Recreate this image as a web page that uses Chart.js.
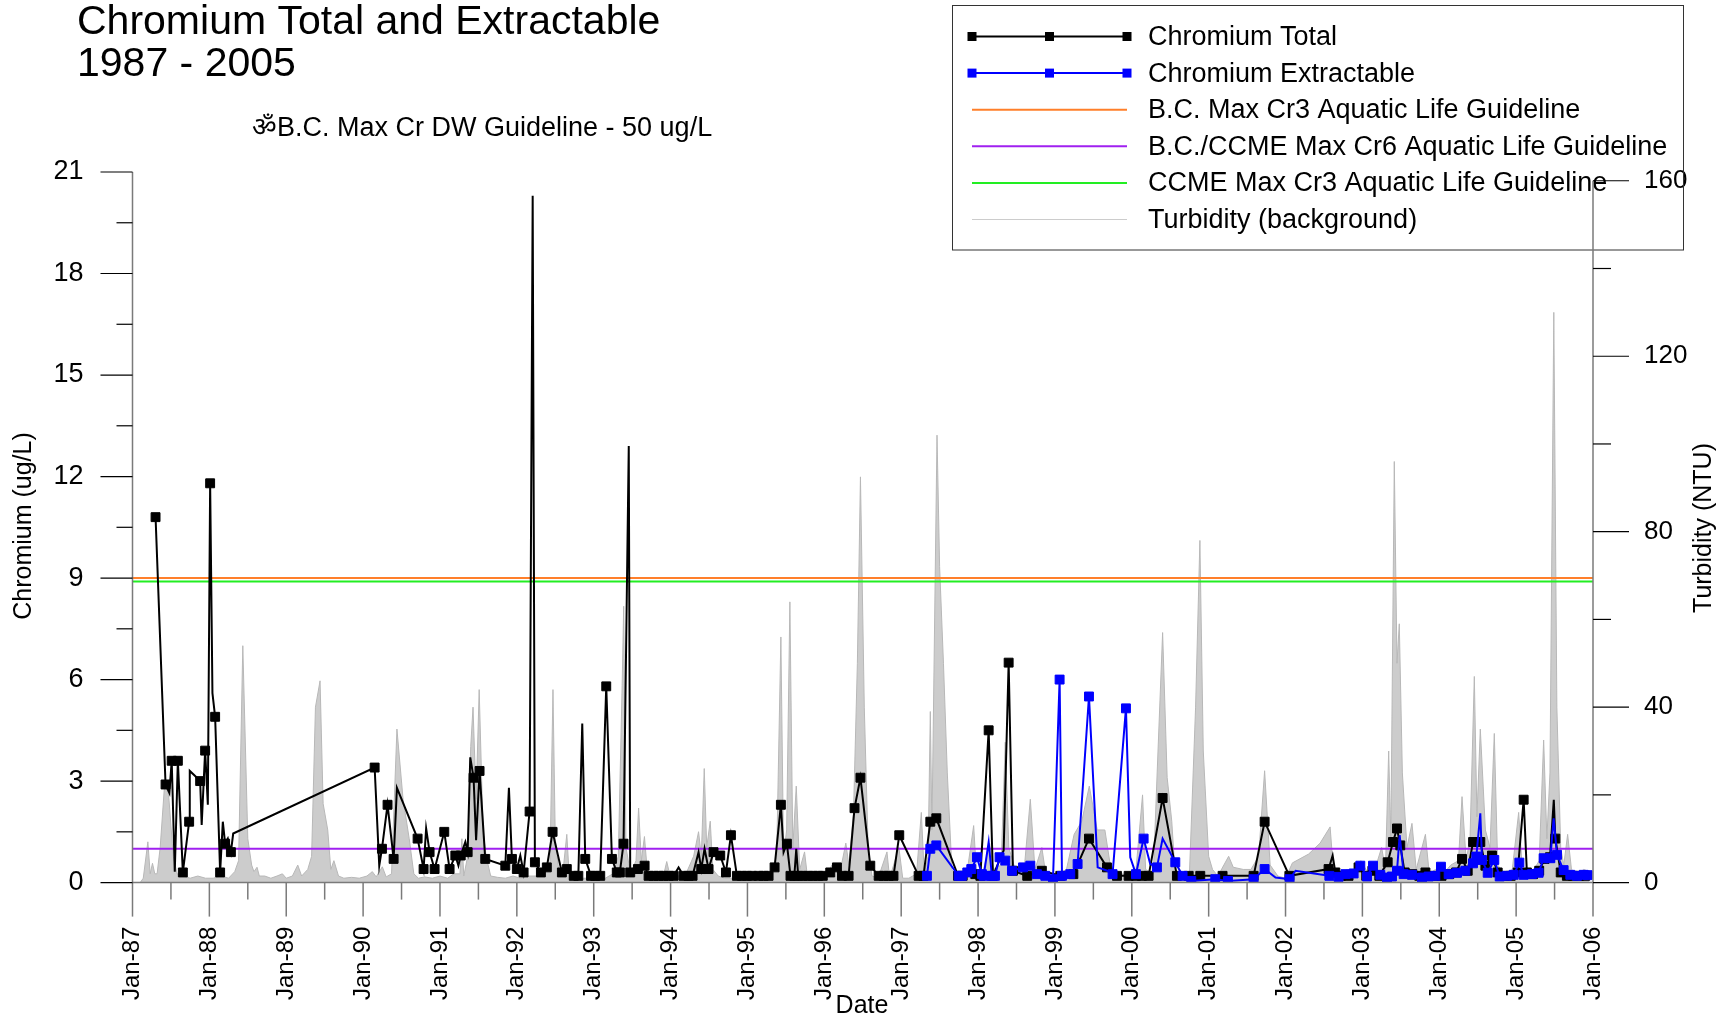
<!DOCTYPE html>
<html>
<head>
<meta charset="utf-8">
<script src="https://cdn.jsdelivr.net/npm/chart.js@4.4.1/dist/chart.umd.min.js"></script>
<style>
  html, body { margin: 0; padding: 0; background: #fff; }
</style>
</head>
<body>
<canvas id="chromium-chart" width="1732" height="1017"></canvas>
<script>
// ---- data (decimal year, value) ----
const titleLines = ['Chromium Total and Extractable', '1987 - 2005'];
const subtitle = '\u0950B.C. Max Cr DW Guideline - 50 ug/L';

const seriesLabels = [
    'Chromium Total',
    'Chromium Extractable',
    'B.C. Max Cr3 Aquatic Life Guideline',
    'B.C./CCME Max Cr6 Aquatic Life Guideline',
    'CCME Max Cr3 Aquatic Life Guideline',
    'Turbidity (background)',
];

// guideline levels (ug/L): BC Cr3, BC/CCME Cr6, CCME Cr3
const guidelineLevels = [9.0, 1.0, 8.9];

const chromiumTotal = [
    [1987.30,10.8],[1987.43,2.9],[1987.48,2.65],[1987.51,3.6],[1987.55,0.32],[1987.59,3.6],[1987.655,0.3],
    [1987.737,1.8],[1987.745,3.3],[1987.815,3.15],[1987.88,3.0],[1987.90,1.7],[1987.945,3.9],[1987.98,2.3],
    [1988.01,11.8],[1988.04,5.6],[1988.075,4.9],[1988.14,0.3],[1988.175,1.8],[1988.205,1.15],[1988.24,1.3],
    [1988.28,0.9],[1988.31,1.45],
    [1990.15,3.4],[1990.21,0.5],[1990.245,1.0],[1990.318,2.3],[1990.397,0.7],[1990.44,2.8],[1990.709,1.3],
    [1990.787,0.4],[1990.82,1.6],[1990.865,0.9],[1990.93,0.4],[1991.056,1.5],[1991.125,0.4],[1991.20,0.8],
    [1991.24,0.5],[1991.27,0.8],[1991.33,1.2],[1991.36,0.9],[1991.394,3.7],[1991.437,3.1],[1991.47,1.25],
    [1991.515,3.3],[1991.589,0.7],[1991.85,0.5],[1991.897,2.8],[1991.936,0.7],[1992.0,0.4],[1992.045,0.8],
    [1992.088,0.3],[1992.166,2.1],[1992.206,20.3],[1992.235,0.6],[1992.313,0.3],[1992.39,0.45],[1992.465,1.5],
    [1992.586,0.3],[1992.65,0.4],[1992.74,0.2],[1992.80,0.2],[1992.851,4.7],[1992.89,0.7],[1992.965,0.2],
    [1993.02,0.2],[1993.085,0.2],[1993.163,5.8],[1993.237,0.7],[1993.30,0.3],[1993.34,0.3],[1993.388,1.15],
    [1993.456,12.9],[1993.475,0.3],[1993.575,0.4],[1993.662,0.5],[1993.714,0.2],[1993.779,0.2],[1993.844,0.2],
    [1993.909,0.2],[1993.974,0.2],[1994.04,0.2],[1994.104,0.45],[1994.169,0.2],[1994.234,0.2],[1994.286,0.2],
    [1994.364,0.9],[1994.399,0.4],[1994.442,1.0],[1994.494,0.4],[1994.559,0.9],[1994.646,0.8],[1994.72,0.3],
    [1994.785,1.4],[1994.863,0.2],[1994.928,0.2],[1994.993,0.2],[1995.058,0.2],[1995.145,0.2],[1995.21,0.2],
    [1995.275,0.2],[1995.353,0.45],[1995.435,2.3],[1995.47,0.9],[1995.513,1.15],[1995.56,0.2],[1995.61,0.2],
    [1995.635,1.0],[1995.66,0.2],[1995.72,0.2],[1995.79,0.2],[1995.85,0.2],[1995.92,0.2],[1995.98,0.2],
    [1996.077,0.3],[1996.164,0.45],[1996.23,0.2],[1996.316,0.2],[1996.393,2.2],[1996.47,3.1],[1996.598,0.5],
    [1996.707,0.2],[1996.772,0.2],[1996.837,0.2],[1996.90,0.2],[1996.975,1.4],[1997.227,0.2],[1997.29,0.2],
    [1997.379,1.8],[1997.457,1.9],[1997.74,0.2],[1997.80,0.2],[1997.964,0.25],[1998.03,0.2],[1998.138,4.5],
    [1998.194,0.2],[1998.333,0.95],[1998.398,6.5],[1998.454,0.35],[1998.64,0.2],[1998.83,0.35],[1999.07,0.2],
    [1999.24,0.25],[1999.443,1.3],[1999.677,0.45],[1999.807,0.2],[1999.959,0.2],[2000.054,0.2],[2000.132,0.2],
    [2000.219,0.2],[2000.401,2.5],[2000.587,0.2],[2000.74,0.2],[2000.891,0.2],[2001.181,0.2],[2001.585,0.2],
    [2001.728,1.8],[2002.05,0.2],[2002.56,0.4],[2002.613,0.8],[2002.648,0.3],[2002.72,0.2],[2002.82,0.2],
    [2002.95,0.45],[2003.05,0.2],[2003.13,0.35],[2003.22,0.2],[2003.329,0.6],[2003.398,1.2],[2003.45,1.6],
    [2003.493,1.1],[2003.55,0.3],[2003.65,0.25],[2003.74,0.2],[2003.82,0.3],[2003.93,0.2],[2004.03,0.2],
    [2004.13,0.25],[2004.22,0.3],[2004.296,0.7],[2004.37,0.35],[2004.44,1.2],[2004.534,1.2],[2004.60,0.5],
    [2004.686,0.8],[2004.76,0.3],[2004.85,0.2],[2004.93,0.2],[2005.02,0.3],[2005.098,2.45],[2005.14,0.3],
    [2005.22,0.25],[2005.30,0.35],[2005.37,0.7],[2005.44,0.75],[2005.49,2.45],[2005.51,1.3],[2005.58,0.3],
    [2005.66,0.2],[2005.74,0.2],[2005.82,0.2],[2005.90,0.2],
];
// vertices of the total line that carry no symbol
const totalNoSymbol = [
    1987.48, 1987.55, 1987.745, 1987.815, 1987.90, 1987.98, 1988.04, 1988.175, 1988.24, 1988.31,
    1990.21, 1990.44, 1990.82, 1991.24, 1991.33, 1991.394, 1991.47, 1991.897, 1992.045, 1992.206,
    1992.851, 1993.456, 1994.104, 1994.364, 1994.442, 1995.47, 1995.635, 1998.333, 2002.613, 2005.49,
];

const chromiumExtractable = [
    [1997.335,0.2],[1997.379,1.0],[1997.457,1.1],[1997.748,0.2],[1997.79,0.2],[1997.86,0.3],[1997.912,0.4],
    [1997.986,0.75],[1998.05,0.25],[1998.073,0.2],[1998.138,1.2],[1998.18,0.2],[1998.22,0.2],[1998.28,0.75],
    [1998.354,0.65],[1998.441,0.35],[1998.585,0.45],[1998.68,0.5],[1998.766,0.25],[1998.875,0.2],[1998.975,0.1],
    [1999.061,6.0],[1999.092,0.2],[1999.20,0.25],[1999.295,0.55],[1999.443,5.5],[1999.556,0.45],[1999.68,0.35],
    [1999.75,0.25],[1999.924,5.15],[1999.98,0.75],[2000.054,0.25],[2000.154,1.3],[2000.24,0.55],[2000.327,0.45],
    [2000.401,1.3],[2000.566,0.6],[2000.661,0.2],[2000.774,0.05],[2001.086,0.1],[2001.251,0.05],[2001.585,0.1],
    [2001.728,0.4],[2001.87,0.15],[2002.053,0.1],[2002.13,0.35],[2002.57,0.2],[2002.69,0.17],[2002.78,0.25],
    [2002.886,0.27],[2002.973,0.5],[2003.06,0.18],[2003.138,0.5],[2003.233,0.23],[2003.32,0.15],[2003.385,0.18],
    [2003.45,0.35],[2003.485,1.4],[2003.537,0.25],[2003.645,0.23],[2003.775,0.15],[2003.862,0.18],[2003.949,0.2],
    [2004.022,0.47],[2004.122,0.25],[2004.231,0.29],[2004.339,0.35],[2004.439,0.57],[2004.482,0.77],[2004.534,2.05],
    [2004.556,0.67],[2004.63,0.29],[2004.716,0.67],[2004.786,0.18],[2004.881,0.2],[2004.968,0.23],[2005.042,0.59],
    [2005.098,0.23],[2005.206,0.25],[2005.293,0.29],[2005.358,0.72],[2005.445,0.72],[2005.488,1.9],[2005.532,0.82],
    [2005.618,0.37],[2005.705,0.23],[2005.792,0.2],[2005.879,0.23],[2005.93,0.22],
];
const extractableNoSymbol = [
    1998.138, 1999.556, 1999.68, 1999.98, 2000.24, 2000.401, 2001.87, 2002.13, 2003.485, 2004.534, 2005.488,
];

// turbidity (NTU), right axis
const turbidity = [
    [1987.10,0],[1987.14,1],[1987.20,9.3],[1987.23,2],[1987.26,4.4],[1987.29,2],[1987.32,2],[1987.36,8],
    [1987.42,23],[1987.47,20],[1987.53,6],[1987.58,2],[1987.65,1.5],[1987.75,1],[1987.85,1.5],[1987.95,1],
    [1988.05,1],[1988.15,1.5],[1988.25,1],[1988.33,2.5],[1988.38,5],[1988.435,54],[1988.50,10],[1988.55,4],
    [1988.58,2.5],[1988.62,3.5],[1988.65,1.5],[1988.72,1.5],[1988.80,1],[1988.88,1.5],[1988.95,2],[1989.00,1],
    [1989.08,1.5],[1989.15,4],[1989.20,1.5],[1989.28,3],[1989.33,6],[1989.38,40],[1989.44,46],[1989.48,18],
    [1989.54,12],[1989.58,3],[1989.62,5],[1989.68,1.5],[1989.75,1],[1989.85,1.2],[1989.95,1],[1990.05,1.5],
    [1990.12,2.5],[1990.17,1.3],[1990.25,3.6],[1990.30,1.3],[1990.37,2],[1990.44,35],[1990.52,19],[1990.60,10],
    [1990.66,2],[1990.72,1],[1990.80,1.3],[1990.90,1],[1991.00,1.5],[1991.10,1],[1991.18,2],[1991.26,2],
    [1991.285,10],[1991.31,1.5],[1991.36,6],[1991.40,31],[1991.43,40],[1991.47,19],[1991.51,44],[1991.56,12],
    [1991.60,6],[1991.66,1.5],[1991.75,1.2],[1991.85,1],[1991.95,1.5],[1992.05,1],[1992.15,1.5],[1992.25,1.5],
    [1992.35,2],[1992.43,3.5],[1992.47,44],[1992.50,10],[1992.55,2],[1992.60,2.5],[1992.65,11],[1992.68,2],
    [1992.75,0.5],[1992.85,1],[1992.95,1],[1993.05,1.5],[1993.15,1],[1993.25,2],[1993.32,6],[1993.37,45],
    [1993.39,63],[1993.42,8],[1993.48,2],[1993.55,5],[1993.584,17],[1993.62,5],[1993.66,10.5],[1993.70,2],
    [1993.80,1],[1993.90,1],[1993.95,4.8],[1994.00,1],[1994.10,1.5],[1994.20,2],[1994.30,6],[1994.364,11.6],
    [1994.40,6],[1994.438,26],[1994.47,8],[1994.516,14],[1994.55,3],[1994.62,1.5],[1994.70,1],[1994.80,1],
    [1994.90,1],[1995.00,1],[1995.10,1],[1995.20,1.5],[1995.30,2],[1995.38,6],[1995.435,56],[1995.47,6],
    [1995.51,12],[1995.552,64],[1995.59,8],[1995.635,22],[1995.68,3],[1995.743,7],[1995.78,1.5],[1995.90,1],
    [1996.00,1],[1996.10,4],[1996.20,2],[1996.28,9],[1996.32,4],[1996.38,16],[1996.43,50],[1996.47,92.5],
    [1996.52,40],[1996.57,8],[1996.62,1.5],[1996.70,1],[1996.815,7],[1996.85,1],[1996.97,8],[1997.02,1],
    [1997.10,1],[1997.20,2],[1997.262,16],[1997.30,2],[1997.35,6],[1997.379,39],[1997.40,12],[1997.466,102],
    [1997.50,72],[1997.55,50],[1997.60,25],[1997.66,3],[1997.75,1],[1997.85,1.5],[1997.943,13],[1997.98,2],
    [1998.06,2],[1998.15,9],[1998.20,3],[1998.30,4],[1998.354,32],[1998.40,8],[1998.50,2],[1998.60,3],
    [1998.68,19],[1998.74,3],[1998.83,8],[1998.88,2],[1998.95,1.5],[1999.05,2],[1999.15,3],[1999.25,11],
    [1999.35,14],[1999.447,22],[1999.55,12],[1999.65,12],[1999.72,4],[1999.80,1.5],[1999.88,2],[1999.95,1.5],
    [2000.05,2],[2000.14,20],[2000.18,3],[2000.28,2],[2000.33,25],[2000.401,57],[2000.46,24],[2000.52,14],
    [2000.56,3],[2000.65,1],[2000.75,2],[2000.83,40],[2000.886,78],[2000.93,30],[2001.00,6],[2001.05,3],
    [2001.12,1.5],[2001.26,6],[2001.32,3.5],[2001.45,3],[2001.55,3],[2001.65,6],[2001.728,25.5],[2001.80,4],
    [2001.90,1.5],[2002.00,1],[2002.09,4.5],[2002.30,6.5],[2002.45,9],[2002.58,12.7],[2002.62,3.5],[2002.70,2],
    [2002.80,3],[2002.90,2],[2002.98,5],[2003.08,2],[2003.18,4],[2003.25,8],[2003.30,3],[2003.342,30],
    [2003.37,10],[2003.415,96],[2003.45,50],[2003.48,59],[2003.52,25],[2003.58,8],[2003.645,13.5],[2003.70,3],
    [2003.82,11],[2003.87,2],[2003.95,3],[2004.05,2],[2004.15,4],[2004.25,5],[2004.296,19.6],[2004.35,5],
    [2004.40,10],[2004.456,47],[2004.49,15],[2004.534,35],[2004.60,12],[2004.66,8],[2004.716,34],[2004.76,4],
    [2004.85,2],[2004.95,3],[2005.033,16],[2005.08,3],[2005.20,2],[2005.30,5],[2005.358,32.5],[2005.40,10],
    [2005.44,25],[2005.49,130],[2005.53,40],[2005.58,8],[2005.62,4],[2005.67,11],[2005.72,3],[2005.80,2],
    [2005.88,3],[2005.95,2.5],
];

// axis ranges
const yearStart = 1987, yearEnd = 2006;
const chromiumMax = 21, chromiumStep = 1.5, chromiumLabelEvery = 3;
const turbTickMax = 160, turbStep = 20, turbLabelEvery = 40;
const turbAxisMax = 162; // right axis top sits a little under the left one

// ---- styling ----
const fontFamily = '"Liberation Sans", Arial, Helvetica, sans-serif';
const axisGray = '#7a7a7a';
const colors = {
    total: '#000000',
    extract: '#0000ff',
    bcCr3: '#ff7f2a',
    cr6: '#a020f0',
    ccmeCr3: '#22ee22',
    turbFill: '#cccccc',
    turbEdge: '#b8b8b8',
};

Chart.defaults.font.family = fontFamily;
Chart.defaults.color = '#000';

const toXY = (pairs) => pairs.map(p => ({ x: p[0], y: p[1] }));
const bareTotal = new Set(totalNoSymbol);
const bareExtract = new Set(extractableNoSymbol);

function markerRadius(bareSet) {
    return (ctx) => (ctx.raw && bareSet.has(ctx.raw.x)) ? 0 : 6.3;
}

function flatLine(level) {
    return [{ x: yearStart, y: level }, { x: yearEnd, y: level }];
}

function makeTicks(min, max, step) {
    const out = [];
    for (let v = min; v <= max + 1e-9; v += step) out.push({ value: Math.round(v * 1000) / 1000 });
    return out;
}

function isMultiple(v, m) {
    return Math.abs(v / m - Math.round(v / m)) < 1e-6;
}

// title, subtitle, legend, axis lines, tick marks and axis titles
const decorPlugin = {
    id: 'decor',
    beforeDatasetsDraw(chart) {
        const ctx = chart.ctx;
        ctx.save();
        ctx.fillStyle = '#000';
        ctx.textAlign = 'left';
        ctx.textBaseline = 'alphabetic';
        ctx.font = '41px ' + fontFamily;
        ctx.fillText(titleLines[0], 77, 34);
        ctx.fillText(titleLines[1], 77, 76);
        ctx.font = '27px ' + fontFamily;
        ctx.fillText(subtitle, 252, 136);

        // legend box
        ctx.strokeStyle = '#333';
        ctx.lineWidth = 1;
        ctx.strokeRect(952.5, 5.5, 731, 244.5);
        ctx.font = '27px ' + fontFamily;
        ctx.textBaseline = 'middle';
        chart.data.datasets.forEach((ds, i) => {
            const y = 36.5 + i * 36.6;
            ctx.strokeStyle = ds.legendColor || ds.borderColor;
            ctx.lineWidth = ds.legendWidth || ds.borderWidth;
            ctx.beginPath();
            ctx.moveTo(972, y);
            ctx.lineTo(1127, y);
            ctx.stroke();
            if (ds.pointStyle === 'rect') {
                ctx.fillStyle = ds.pointBackgroundColor;
                [972, 1049.5, 1127].forEach(px => ctx.fillRect(px - 4.5, y - 4.5, 9, 9));
            }
            ctx.fillStyle = '#000';
            ctx.fillText(ds.label, 1148, y + 1);
        });
        ctx.restore();
    },
    afterDatasetsDraw(chart) {
        const ctx = chart.ctx;
        const { left, right, bottom } = chart.chartArea;
        const xs = chart.scales.x, yl = chart.scales.y, yr = chart.scales.y1;
        const seg = (x1, y1, x2, y2) => { ctx.beginPath(); ctx.moveTo(x1, y1); ctx.lineTo(x2, y2); ctx.stroke(); };
        ctx.save();

        // axis lines
        ctx.strokeStyle = axisGray;
        ctx.lineWidth = 1.5;
        seg(left, yl.getPixelForValue(chromiumMax), left, bottom);
        seg(right, yr.getPixelForValue(turbTickMax), right, bottom);
        seg(left, bottom, right, bottom);

        // date ticks: long at January, short at July
        xs.ticks.forEach(t => {
            const px = xs.getPixelForValue(t.value);
            seg(px, bottom, px, bottom + (t.label ? 34 : 17));
        });

        // value ticks
        ctx.strokeStyle = '#000';
        ctx.lineWidth = 1.2;
        yl.ticks.forEach(t => {
            const py = yl.getPixelForValue(t.value);
            seg(left - (t.label ? 32 : 16), py, left, py);
        });
        yr.ticks.forEach(t => {
            const py = yr.getPixelForValue(t.value);
            seg(right, py, right + (t.label ? 36 : 18), py);
        });

        // axis titles
        ctx.fillStyle = '#000';
        ctx.font = '25px ' + fontFamily;
        ctx.textAlign = 'center';
        ctx.textBaseline = 'middle';
        ctx.save();
        ctx.translate(24, 526);
        ctx.rotate(-Math.PI / 2);
        ctx.fillText('Chromium (ug/L)', 0, 0);
        ctx.restore();
        ctx.save();
        ctx.translate(1704, 528);
        ctx.rotate(-Math.PI / 2);
        ctx.fillText('Turbidity (NTU)', 0, 0);
        ctx.restore();
        ctx.textBaseline = 'alphabetic';
        ctx.fillText('Date', 862, 1013);
        ctx.restore();
    },
};

new Chart(document.getElementById('chromium-chart').getContext('2d'), {
    type: 'line',
    data: {
        datasets: [
            {
                label: seriesLabels[0],
                data: toXY(chromiumTotal),
                yAxisID: 'y',
                borderColor: colors.total,
                borderWidth: 2,
                pointStyle: 'rect',
                pointRadius: markerRadius(bareTotal),
                pointBackgroundColor: colors.total,
                pointBorderColor: colors.total,
                pointBorderWidth: 1,
                order: 2,
            },
            {
                label: seriesLabels[1],
                data: toXY(chromiumExtractable),
                yAxisID: 'y',
                borderColor: colors.extract,
                borderWidth: 2,
                pointStyle: 'rect',
                pointRadius: markerRadius(bareExtract),
                pointBackgroundColor: colors.extract,
                pointBorderColor: colors.extract,
                pointBorderWidth: 1,
                order: 1,
            },
            {
                label: seriesLabels[2],
                data: flatLine(guidelineLevels[0]),
                yAxisID: 'y',
                borderColor: colors.bcCr3,
                borderWidth: 2,
                pointRadius: 0,
                order: 4,
            },
            {
                label: seriesLabels[3],
                data: flatLine(guidelineLevels[1]),
                yAxisID: 'y',
                borderColor: colors.cr6,
                borderWidth: 2,
                pointRadius: 0,
                order: 4,
            },
            {
                label: seriesLabels[4],
                data: flatLine(guidelineLevels[2]),
                yAxisID: 'y',
                borderColor: colors.ccmeCr3,
                borderWidth: 2,
                pointRadius: 0,
                order: 4,
            },
            {
                label: seriesLabels[5],
                data: toXY(turbidity),
                yAxisID: 'y1',
                borderColor: colors.turbEdge,
                backgroundColor: colors.turbFill,
                legendColor: colors.turbFill,
                borderWidth: 1,
                fill: 'origin',
                pointRadius: 0,
                order: 9,
            },
        ],
    },
    options: {
        responsive: false,
        animation: false,
        events: [],
        layout: { padding: { top: 172, left: 0, right: 0, bottom: 0 } },
        elements: { line: { tension: 0 } },
        plugins: {
            legend: { display: false },
            tooltip: { enabled: false },
        },
        scales: {
            x: {
                type: 'linear',
                min: yearStart,
                max: yearEnd,
                grid: { display: false, drawTicks: false },
                border: { display: false },
                afterBuildTicks: (s) => { s.ticks = makeTicks(yearStart, yearEnd, 0.5); },
                afterFit: (s) => { s.height = 134.4; },
                ticks: {
                    autoSkip: false,
                    minRotation: 90,
                    maxRotation: 90,
                    padding: 44,
                    font: { size: 24 },
                    callback: (v) => isMultiple(v, 1) ? 'Jan-' + String(Math.round(v) % 100).padStart(2, '0') : '',
                },
            },
            y: {
                position: 'left',
                min: 0,
                max: chromiumMax,
                grid: { display: false, drawTicks: false },
                border: { display: false },
                afterBuildTicks: (s) => { s.ticks = makeTicks(0, chromiumMax, chromiumStep); },
                afterFit: (s) => { s.width = 132.5; },
                ticks: {
                    padding: 49,
                    font: { size: 27 },
                    callback: (v) => isMultiple(v, chromiumLabelEvery) ? String(v) : '',
                },
            },
            y1: {
                position: 'right',
                min: 0,
                max: turbAxisMax,
                grid: { display: false, drawTicks: false },
                border: { display: false },
                afterBuildTicks: (s) => { s.ticks = makeTicks(0, turbTickMax, turbStep); },
                afterFit: (s) => { s.width = 139; },
                ticks: {
                    padding: 51,
                    font: { size: 26 },
                    callback: (v) => isMultiple(v, turbLabelEvery) ? String(v) : '',
                },
            },
        },
    },
    plugins: [decorPlugin],
});
</script>
</body>
</html>
